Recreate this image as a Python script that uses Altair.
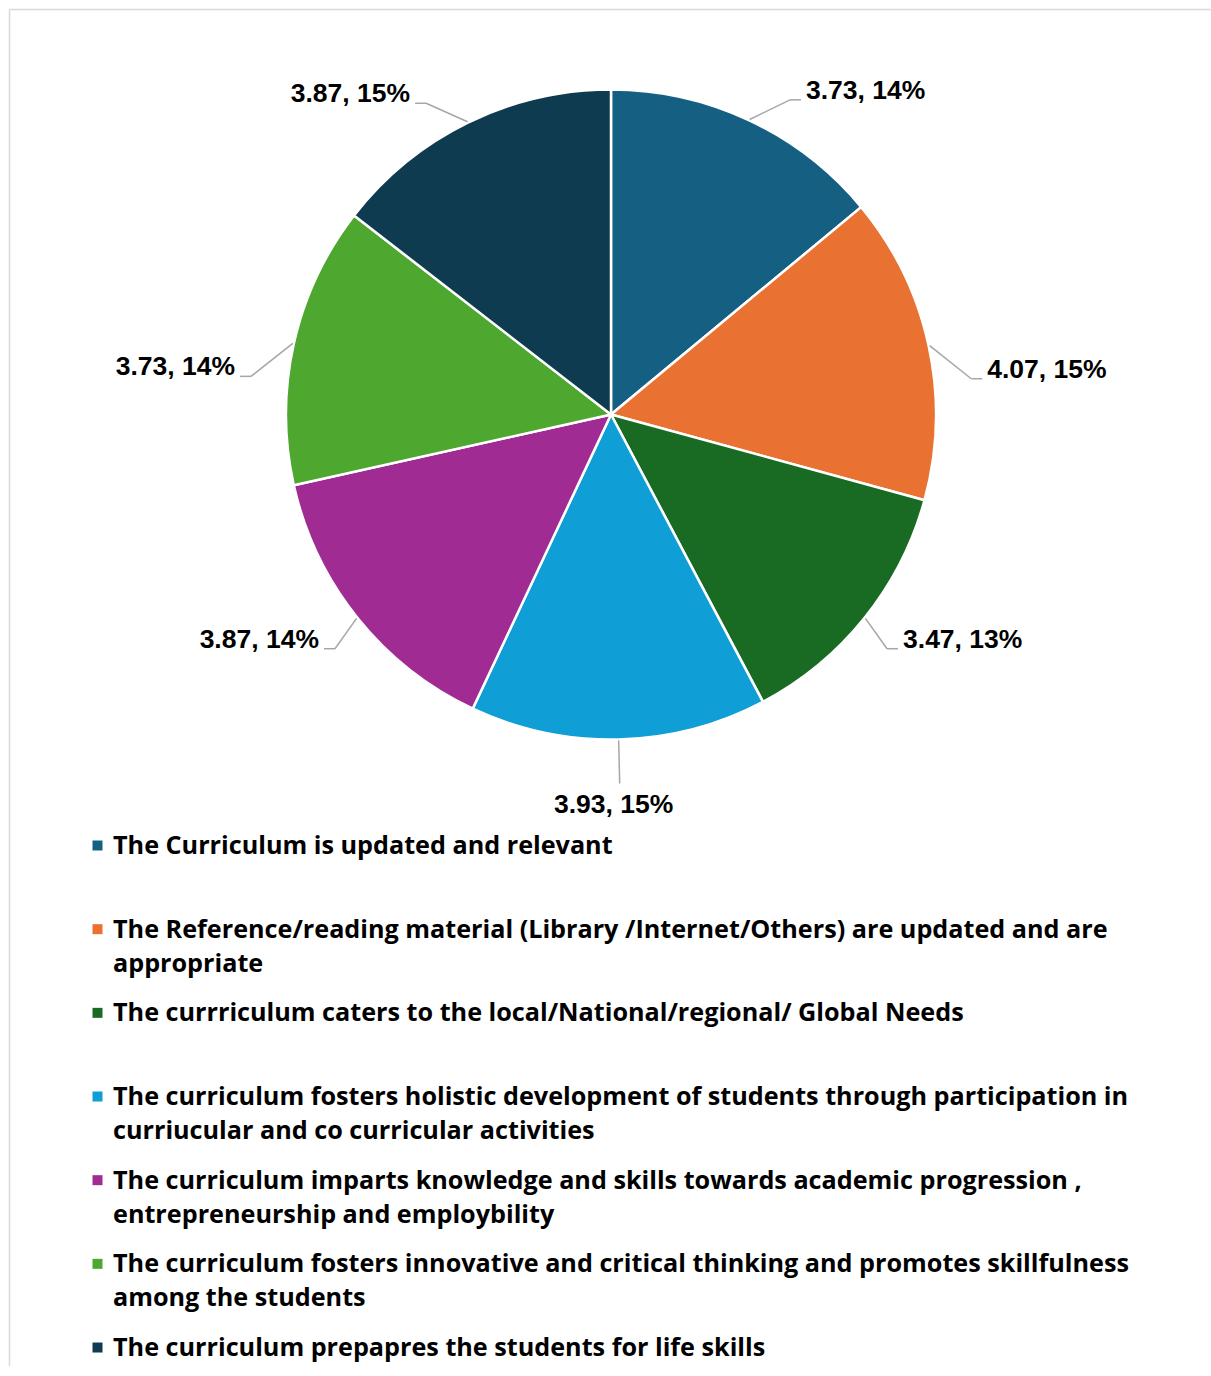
import altair as alt
import pandas as pd

# ---- data ----
categories = [
    "The Curriculum is updated and relevant",
    "The Reference/reading material (Library /Internet/Others) are updated and are\nappropriate",
    "The currriculum caters to the local/National/regional/ Global Needs",
    "The curriculum fosters holistic development of students through  participation in\ncurriucular and co curricular activities",
    "The curriculum imparts knowledge and  skills towards academic progression ,\nentrepreneurship and employbility",
    "The curriculum fosters innovative and critical thinking and promotes  skillfulness\namong the students",
    "The curriculum prepapres the students for life skills",
]
values = [3.73, 4.07, 3.47, 3.93, 3.87, 3.73, 3.87]
pct_labels = ["14%", "15%", "13%", "15%", "14%", "14%", "15%"]
colors = ["#156082", "#E97132", "#196B24", "#0F9ED5", "#A02B93", "#4EA72E", "#0E3B50"]

df = pd.DataFrame({
    "idx": list(range(len(values))),
    "category": categories,
    "value": values,
    "pct": pct_labels,
})

# ---- layout constants (pixels) ----
W, H = 1211, 1366
CX, CY, R = 611, 414.5, 325
R_ELBOW, R_ELBOW_BOTTOM = 362, 369
LEG_Y0, LEG_STEP = 845.5, 83.67
LEG_SQ_X, LEG_TXT_X = 97.5, 113

xscale = alt.Scale(domain=[0, W], nice=False, zero=False)
yscale = alt.Scale(domain=[0, H], nice=False, zero=False, reverse=True)
color_enc = alt.Color("category:N", scale=alt.Scale(domain=categories, range=colors), legend=None)


def X(f):
    return alt.X(f, type="quantitative", scale=xscale, axis=None)


def Y(f):
    return alt.Y(f, type="quantitative", scale=yscale, axis=None)


base = alt.Chart(df).transform_window(
    cum="sum(value)", sort=[alt.SortField("idx")], frame=[None, 0]
).transform_joinaggregate(
    total="sum(value)"
).transform_calculate(
    a="2*PI*(datum.cum - datum.value/2)/datum.total",
    label="format(datum.value, '.2f') + ', ' + datum.pct",
).transform_calculate(
    side="sin(datum.a) > 0.15 ? 1 : (sin(datum.a) < -0.15 ? -1 : 0)",
    a2="datum.a + 5.5*PI/180*sin(datum.a)*(1+cos(datum.a))",
).transform_calculate(
    re=f"datum.side == 0 ? {R_ELBOW_BOTTOM} : {R_ELBOW}",
    x0=f"{CX} + {R + 1}*sin(datum.a)",
    y0=f"{CY} - {R + 1}*cos(datum.a)",
).transform_calculate(
    x1=f"{CX} + datum.re*sin(datum.a2)",
    y1=f"{CY} - datum.re*cos(datum.a2)",
).transform_calculate(
    x2="datum.x1 + 11*datum.side",
    tx="datum.side == 0 ? datum.x1 - 6 : datum.x1 + 16*datum.side",
    ty="datum.side == 0 ? datum.y1 - 30*cos(datum.a) : datum.y1 - 1",
)

pie = base.mark_arc(outerRadius=R, stroke="white", strokeWidth=2.5).encode(
    theta=alt.Theta("value:Q", stack=True),
    order=alt.Order("idx:Q", sort="ascending"),
    color=color_enc,
    x=alt.XDatum(CX, type="quantitative", scale=xscale, axis=None),
    y=alt.YDatum(CY, type="quantitative", scale=yscale, axis=None),
)

lead_col = "#A6A6A6"
lead1 = base.mark_rule(color=lead_col, strokeWidth=1.5).encode(
    x=X("x0"), y=Y("y0"), x2="x1:Q", y2="y1:Q"
)
lead2 = base.mark_rule(color=lead_col, strokeWidth=1.5).encode(
    x=X("x1"), y=Y("y1"), x2="x2:Q", y2="y1:Q"
)

lab_style = dict(font="Liberation Sans", fontWeight="bold", fontSize=26.5, color="#000000", baseline="alphabetic")
lab_right = base.transform_filter("datum.side == 1").mark_text(align="left", **lab_style).encode(
    x=X("tx"), y=Y("ty"), text="label:N"
)
lab_left = base.transform_filter("datum.side == -1").mark_text(align="right", **lab_style).encode(
    x=X("tx"), y=Y("ty"), text="label:N"
)
lab_mid = base.transform_filter("datum.side == 0").mark_text(align="center", **lab_style).encode(
    x=X("tx"), y=Y("ty"), text="label:N"
)

# ---- legend (manual, below the pie) ----
leg = alt.Chart(df).transform_calculate(
    sy=f"{LEG_Y0} + {LEG_STEP}*datum.idx",
    ty=f"{LEG_Y0 + 8.5} + {LEG_STEP}*datum.idx",
    sx=f"{LEG_SQ_X}",
    tx=f"{LEG_TXT_X}",
)
leg_sq = leg.mark_square(size=100, opacity=1).encode(
    x=X("sx"), y=Y("sy"), color=color_enc
)
leg_txt = leg.mark_text(
    align="left", baseline="alphabetic", lineBreak="\n", lineHeight=34,
    font="Open Sans", fontWeight="bold", fontSize=25.2, color="#000000",
).encode(x=X("tx"), y=Y("ty"), text="category:N")

# ---- chart-area border (left & top) ----
one = alt.Data(values=[{"k": 0}])
border_l = alt.Chart(one).mark_rule(color="#D9D9D9", strokeWidth=1.5).encode(
    x=alt.value(9.5), y=alt.value(9.5), y2=alt.value(H)
)
border_t = alt.Chart(one).mark_rule(color="#D9D9D9", strokeWidth=1.5).encode(
    x=alt.value(9.5), x2=alt.value(W), y=alt.value(9.5)
)

chart = alt.layer(
    border_l, border_t, pie, lead1, lead2, lab_right, lab_left, lab_mid, leg_sq, leg_txt
).properties(
    width=W, height=H, padding=0, autosize="none", background="white"
).configure_view(stroke=None)

chart.save("out.html", embed_options={"renderer": "svg", "actions": False})
